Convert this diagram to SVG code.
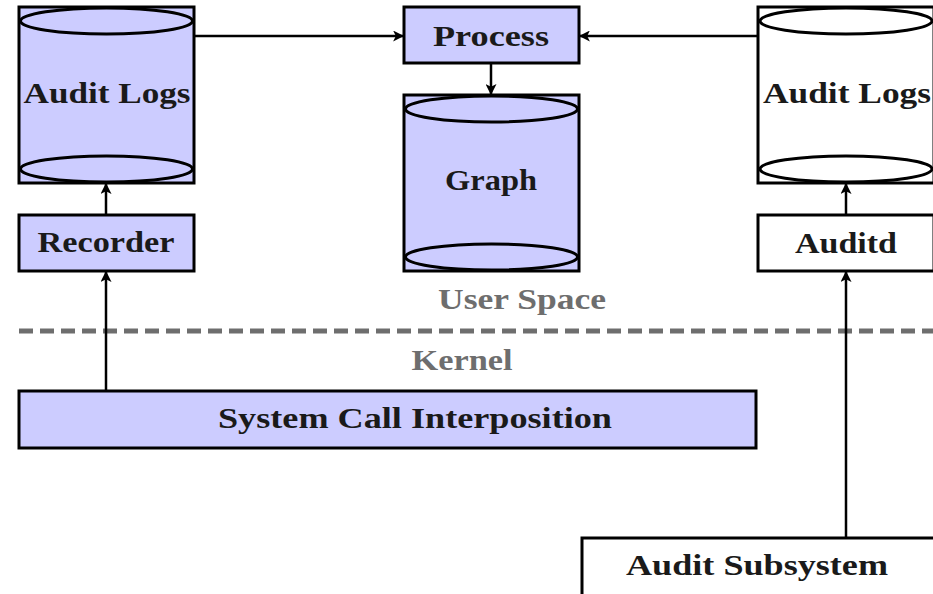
<svg xmlns="http://www.w3.org/2000/svg" width="933" height="594" viewBox="0 0 933 594">
  <style>
    .box { stroke: #000; stroke-width: 3; }
    .fill { fill: #ccccff; }
    .plain { fill: #ffffff; }
    .lid { stroke: #000; stroke-width: 3; }
    .lbl { font-family: "Liberation Serif", "DejaVu Serif", serif; font-weight: bold; font-size: 30px; fill: #1a1a1a; text-anchor: middle; }
    .zone { font-family: "Liberation Serif", "DejaVu Serif", serif; font-weight: bold; font-size: 30px; fill: #6e6e6e; text-anchor: middle; }
    .wire { stroke: #000; stroke-width: 2.5; fill: none; marker-end: url(#tip); }
  </style>
  <defs>
    <marker id="tip" viewBox="0 0 10 10" refX="9" refY="5" markerWidth="4.4" markerHeight="4.4" orient="auto" markerUnits="strokeWidth">
      <path d="M0,0 L10,5 L0,10 L2.5,5 Z" fill="#000"/>
    </marker>
  </defs>

  <!-- boundary between user space and kernel -->
  <line x1="19" y1="331" x2="933" y2="331" stroke="#6e6e6e" stroke-width="5" stroke-dasharray="14 7"/>
  <text class="zone" x="522" y="309" textLength="168" lengthAdjust="spacingAndGlyphs">User Space</text>
  <text class="zone" x="462" y="370" textLength="101" lengthAdjust="spacingAndGlyphs">Kernel</text>

  <g id="connectors">
    <line class="wire" x1="194" y1="36" x2="403" y2="36"/>
    <line class="wire" x1="758" y1="36" x2="580" y2="36"/>
    <line class="wire" x1="491" y1="64" x2="491" y2="94"/>
    <line class="wire" x1="106" y1="215" x2="106" y2="184"/>
    <line class="wire" x1="106" y1="391" x2="106" y2="272"/>
    <line class="wire" x1="846" y1="215" x2="846" y2="184"/>
    <line class="wire" x1="846" y1="538" x2="846" y2="272"/>
  </g>

  <g id="audit-logs-left">
    <rect class="box fill" x="19" y="7" width="175" height="176"/>
    <ellipse class="lid fill" cx="106.5" cy="21" rx="86" ry="13"/>
    <ellipse class="lid fill" cx="106.5" cy="169" rx="86" ry="13"/>
    <text class="lbl" x="107" y="103" textLength="167" lengthAdjust="spacingAndGlyphs">Audit Logs</text>
  </g>

  <g id="process">
    <rect class="box fill" x="404" y="7" width="175" height="56"/>
    <text class="lbl" x="491" y="46" textLength="116" lengthAdjust="spacingAndGlyphs">Process</text>
  </g>

  <g id="graph">
    <rect class="box fill" x="404" y="95" width="175" height="176"/>
    <ellipse class="lid fill" cx="491.5" cy="109" rx="86" ry="13"/>
    <ellipse class="lid fill" cx="491.5" cy="257" rx="86" ry="13"/>
    <text class="lbl" x="491" y="190" textLength="92" lengthAdjust="spacingAndGlyphs">Graph</text>
  </g>

  <g id="audit-logs-right">
    <rect class="box plain" x="758" y="7" width="176" height="176"/>
    <ellipse class="lid plain" cx="846" cy="21" rx="86" ry="13"/>
    <ellipse class="lid plain" cx="846" cy="169" rx="86" ry="13"/>
    <text class="lbl" x="847" y="103" textLength="168" lengthAdjust="spacingAndGlyphs">Audit Logs</text>
  </g>

  <g id="recorder">
    <rect class="box fill" x="19" y="215" width="175" height="56"/>
    <text class="lbl" x="106" y="252" textLength="137" lengthAdjust="spacingAndGlyphs">Recorder</text>
  </g>

  <g id="auditd">
    <rect class="box plain" x="758" y="215" width="176" height="56"/>
    <text class="lbl" x="846" y="253" textLength="102" lengthAdjust="spacingAndGlyphs">Auditd</text>
  </g>

  <g id="syscall-interposition">
    <rect class="box fill" x="19" y="391" width="737" height="57"/>
    <text class="lbl" x="415" y="428" textLength="394" lengthAdjust="spacingAndGlyphs">System Call Interposition</text>
  </g>

  <g id="audit-subsystem">
    <rect class="box plain" x="582" y="538" width="360" height="70"/>
    <text class="lbl" x="757" y="575" textLength="262" lengthAdjust="spacingAndGlyphs">Audit Subsystem</text>
  </g>
</svg>
